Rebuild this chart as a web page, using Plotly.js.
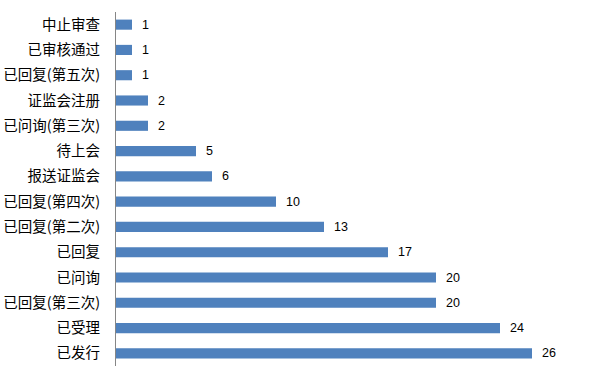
<!DOCTYPE html>
<html>
<head>
<meta charset="utf-8">
<script src="https://cdn.plot.ly/plotly-3.0.1.min.js"></script>
<style>html,body{margin:0;padding:0;background:#fff;}#chart{width:612px;height:377px;}</style>
</head>
<body>
<div id="chart"></div>
<script>
const categories = ["中止审查","已审核通过","已回复(第五次)","证监会注册","已问询(第三次)","待上会","报送证监会","已回复(第四次)","已回复(第二次)","已回复","已问询","已回复(第三次)","已受理","已发行"];
const values = [1,1,1,2,2,5,6,10,13,17,20,20,24,26];

const trace = {
  type: 'bar',
  orientation: 'h',
  y: categories,
  x: values,
  marker: {color: '#4F81BD'},
  text: values.map(v => '  ' + v),
  textposition: 'outside',
  constraintext: 'none',
  cliponaxis: false,
  textfont: {family: 'Liberation Sans, Arial, sans-serif', size: 12.5, color: '#000'},
  hoverinfo: 'none'
};

const layout = {
  width: 612, height: 377,
  margin: {l: 116, r: 16, t: 12, b: 11},
  paper_bgcolor: '#fff', plot_bgcolor: '#fff',
  showlegend: false,
  bargap: 0.6,
  font: {family: '"Noto Sans CJK SC", sans-serif', color: '#000'},
  xaxis: {range: [0, 30], visible: false, fixedrange: true},
  yaxis: {
    autorange: 'reversed',
    type: 'category',
    showline: true, linecolor: '#868686', linewidth: 1,
    showgrid: false, zeroline: false,
    ticks: '', ticklabelstandoff: 12,
    tickfont: {family: '"Noto Sans CJK SC", sans-serif', size: 14.5, color: '#000'}
  }
};

Plotly.newPlot('chart', [trace], layout, {staticPlot: true, displayModeBar: false});
</script>
</body>
</html>
